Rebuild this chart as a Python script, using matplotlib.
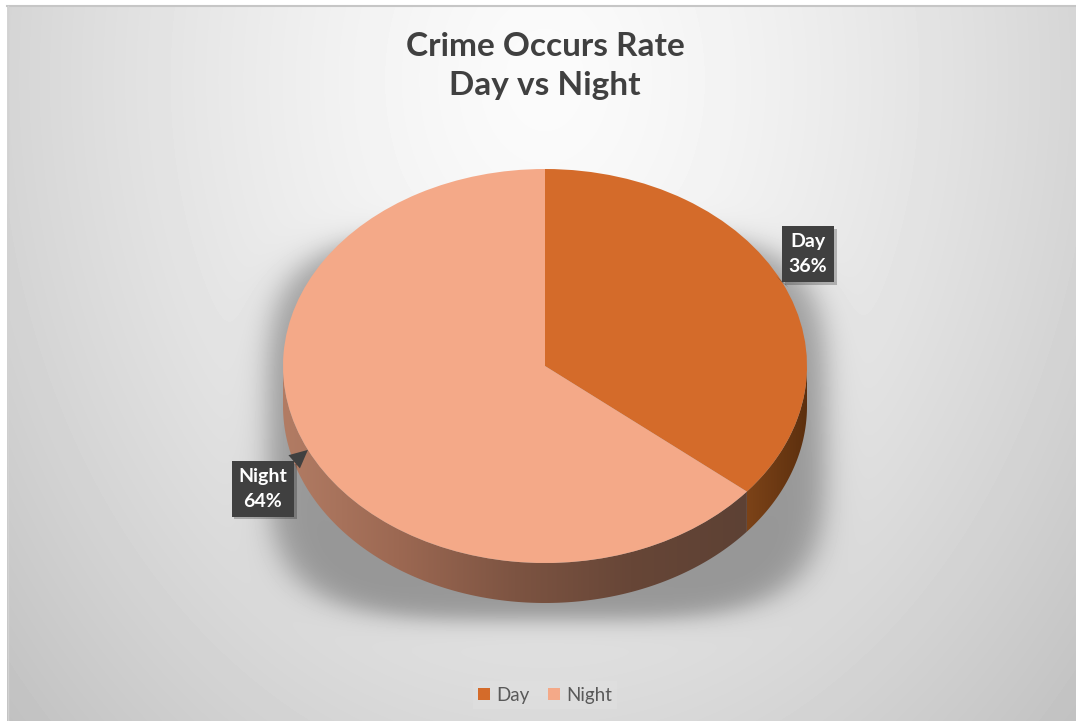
import numpy as np
import matplotlib.pyplot as plt
from matplotlib.colors import LinearSegmentedColormap
from matplotlib.patches import Polygon
import matplotlib.patheffects as pe

plt.rcParams['font.family'] = ['Lato', 'DejaVu Sans']

# chart data
labels = ['Day', 'Night']
shares = [36, 64]
top_colors = ['#d46b2a', '#f4a988']

W, H = 1076, 721
fig = plt.figure(figsize=(W / 100, H / 100), dpi=100)
fig.patch.set_facecolor('white')

# --- background: soft radial grey gradient plus the pie's drop shadow ---
bg = fig.add_axes([0, 0, 1, 1])
xs = np.arange(7, W) + 0.5
ys = np.arange(6, H) + 0.5
X, Y = np.meshgrid(xs, ys)
r = np.hypot(X - 545, (Y - 80) / 1.3)
shade = 251 - 55 * (r / 700) ** 1.4
s = (np.abs((X - 547) / 279) ** 4 + np.abs((Y - 425) / 195) ** 4) ** 0.25
shadow = 0.33 / (1 + np.exp((s - 1) * 279 / 9))
shade = shade * (1 - shadow)
bg.imshow(np.clip(shade / 255, 0, 1), cmap='gray', vmin=0, vmax=1,
          extent=(7, W, H, 6), interpolation='bilinear')
bg.plot([7, W], [5.5, 5.5], color='#c6c6c6', lw=1.5)
bg.plot([7.5, 7.5], [6, H], color='#d2d2d2', lw=1)
bg.set_aspect('auto')
bg.set_xlim(0, W)
bg.set_ylim(H, 0)
bg.axis('off')

# --- pie axes: unit circle squashed into the tilted ellipse ---
cx, cy = 545, 366      # ellipse centre (pixels from top-left)
rx, ry = 262, 197      # ellipse radii in pixels
depth = 40 / ry        # thickness of the pie side

ax = fig.add_axes([0, 0, 1, 1])
ax.patch.set_alpha(0)

wedges, _ = ax.pie(shares, colors=top_colors, startangle=90, counterclock=False,
                   radius=1, wedgeprops=dict(linewidth=0.5, edgecolor='none'))
for w in wedges:
    w.set_zorder(4)

total = sum(shares)
split = 90 - 360 * shares[0] / total + 360   # Day/Night boundary on the lower rim


def side_band(a0, a1):
    t = np.radians(np.linspace(a0, a1, 200))
    rim = np.column_stack([np.cos(t), np.sin(t)])
    lower = rim[::-1] - [0, depth]
    return np.vstack([rim, lower])


night_cmap = LinearSegmentedColormap.from_list(
    'night_side', ['#b27c64', '#9c6852', '#7d5442', '#674637', '#5d4134'])
day_cmap = LinearSegmentedColormap.from_list('day_side', ['#7c4318', '#5c2f0e'])

grad = np.linspace(0, 1, 256)[None, :]
for (a0, a1), cmap in [((180, split), night_cmap), ((split, 360), day_cmap)]:
    band = Polygon(side_band(a0, a1), closed=True, facecolor='none', edgecolor='none')
    ax.add_patch(band)
    x0 = np.cos(np.radians(a0))
    x1 = np.cos(np.radians(a1))
    im = ax.imshow(grad, cmap=cmap, extent=[min(x0, x1), max(x0, x1), -1 - depth, 0],
                   aspect='auto', zorder=3, interpolation='bilinear')
    im.set_clip_path(band)

ax.set_aspect('auto')
ax.set_xlim(-cx / rx, (W - cx) / rx)
ax.set_ylim(-(H - cy) / ry, cy / ry)
ax.axis('off')

# --- callout data labels ---
label_offsets = [(26, 28), (-45, -39)]
cum = 0
for lab, val, off in zip(labels, shares, label_offsets):
    mid = np.radians(90 - 360 * (cum + val / 2) / total)
    cum += val
    ann = ax.annotate(f'{lab}\n{val / total:.0%}', xy=(np.cos(mid), np.sin(mid)),
                      xytext=off, textcoords='offset pixels',
                      ha='center', va='center', fontsize=14, fontweight='bold',
                      color='white', linespacing=1.55, zorder=6,
                      bbox=dict(boxstyle='square,pad=0.35', fc='#404040', ec='none'),
                      arrowprops=dict(arrowstyle='wedge,tail_width=0.9', fc='#404040',
                                      ec='none', shrinkA=0, shrinkB=0))
    ann.get_bbox_patch().set_path_effects(
        [pe.SimplePatchShadow(offset=(2, -2), alpha=0.25), pe.Normal()])

# --- title and legend ---
fig.text(cx / W, 1 - 66 / H, 'Crime Occurs Rate\nDay vs Night', ha='center', va='center',
         fontsize=24, fontweight='bold', color='#404040', linespacing=1.45)

leg = ax.legend(wedges, labels, loc='center', bbox_to_anchor=(cx / W, 1 - 695 / H),
                bbox_transform=fig.transFigure, ncol=2, fontsize=13.5, frameon=True,
                facecolor='#e0e0e0', edgecolor='none', framealpha=0.6,
                handlelength=0.65, handleheight=0.65, handletextpad=0.3,
                columnspacing=1.0, labelcolor='#595959', fancybox=False,
                borderpad=0.3)

fig.savefig('out.png', dpi=100, facecolor=fig.get_facecolor())
